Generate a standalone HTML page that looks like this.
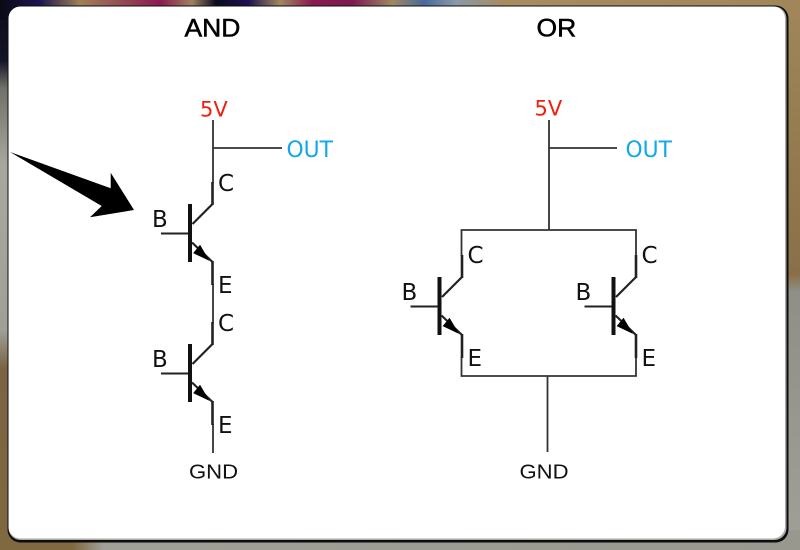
<!DOCTYPE html>
<html><head><meta charset="utf-8"><style>
html,body{margin:0;padding:0;width:800px;height:550px;overflow:hidden;background:#999}
svg{display:block}
text{font-family:"DejaVu Sans",sans-serif;font-size:23px;fill:#111}
.t{font-family:"Liberation Sans",sans-serif;font-size:25px;fill:#000;stroke:#000;stroke-width:.5}
.r{fill:#f02010;font-size:21px}.b{fill:#10a8e8;font-size:21.8px}
.g{font-family:"Liberation Sans",sans-serif;font-size:20px}
</style></head><body>
<svg width="800" height="550" viewBox="0 0 800 550" xmlns="http://www.w3.org/2000/svg">
<defs>
<linearGradient id="top"><stop offset="0" stop-color="#0a0a14"/><stop offset=".05" stop-color="#1c1450"/><stop offset=".1" stop-color="#a08058"/><stop offset=".2" stop-color="#8a1a50"/><stop offset=".24" stop-color="#a08060"/><stop offset=".27" stop-color="#0a0a20"/><stop offset=".31" stop-color="#1c1050"/><stop offset=".35" stop-color="#a08860"/><stop offset=".39" stop-color="#8a1a50"/><stop offset=".44" stop-color="#7a1850"/><stop offset=".49" stop-color="#a08860"/><stop offset=".53" stop-color="#4a6a9a"/><stop offset=".57" stop-color="#8a98a8"/><stop offset=".63" stop-color="#a88c60"/><stop offset="1" stop-color="#a08658"/></linearGradient>
<linearGradient id="left" x2="0" y2="1"><stop offset="0" stop-color="#0a0a18"/><stop offset=".11" stop-color="#141428"/><stop offset=".16" stop-color="#707068"/><stop offset=".3" stop-color="#a8a8a0"/><stop offset=".6" stop-color="#a0a098"/><stop offset=".67" stop-color="#7a6444"/><stop offset="1" stop-color="#806840"/></linearGradient>
<linearGradient id="right" x2="0" y2="1"><stop offset="0" stop-color="#a08658"/><stop offset=".5" stop-color="#8a7048"/><stop offset=".53" stop-color="#8f8f88"/><stop offset="1" stop-color="#a0a098"/></linearGradient>
<linearGradient id="bot"><stop offset="0" stop-color="#806840"/><stop offset=".09" stop-color="#806840"/><stop offset=".13" stop-color="#a0a098"/><stop offset="1" stop-color="#98988f"/></linearGradient>
<g id="q" fill="none" stroke="#222">
<path d="M0 29.5H29" stroke-width="2"/>
<path d="M29 0V58" stroke-width="4" stroke="#111"/>
<path d="M31.5 20L51.5 0" stroke-width="2.2"/>
<path d="M51.5 1V-22" stroke-width="2.6"/>
<path d="M31 38.5L51.5 58" stroke-width="2.2"/>
<path d="M51.5 57V81" stroke-width="2.6"/>
<path d="M39 41.5L47.5 56L32.8 49Z" fill="#000" stroke="#000" stroke-width=".8"/>
</g>
</defs>
<rect width="800" height="550" fill="#a0a098"/>
<rect x="0" y="0" width="30" height="550" fill="url(#left)"/>
<rect x="770" y="0" width="30" height="550" fill="url(#right)"/>
<rect x="0" y="530" width="800" height="20" fill="url(#bot)"/>
<rect x="0" y="0" width="800" height="20" fill="url(#top)"/>
<rect x="7.5" y="5.5" width="781" height="537" rx="13" fill="#0c0c0c"/>
<rect x="8.5" y="6.5" width="778" height="533.5" rx="12" fill="#aaa"/>
<rect x="8.5" y="6.5" width="776.5" height="532" rx="12" fill="#fff"/>

<path d="M10 152L110.7 188.3L110.7 172.7L134 210L90 217.3L101.7 206Z" fill="#000"/>

<text class="t" transform="translate(184.5,36.7) scale(1.06,1)">AND</text>
<text class="t" transform="translate(536.5,36.7) scale(1.06,1)">OR</text>

<g fill="none" stroke="#333" stroke-width="1.8">
<path d="M213 120V183M213 148H282"/>
<path d="M213 284V323"/>
<path d="M213 424V453"/>
<path d="M549 120V230M549 148H617"/>
<path d="M461.5 256V230H636V256"/>
<path d="M461.5 357V376H636V357"/>
<path d="M547.5 376V452"/>
</g>

<use href="#q" x="161" y="204"/>
<use href="#q" x="161" y="344"/>
<use href="#q" x="410.5" y="277"/>
<use href="#q" x="584.5" y="277"/>

<text class="r" x="200" y="116.5">5V</text>
<text class="r" x="534.5" y="115.5">5V</text>
<text class="b" x="286.5" y="157">OUT</text>
<text class="b" x="625.5" y="157">OUT</text>

<text x="218" y="191">C</text>
<text x="152" y="227">B</text>
<text x="218" y="293">E</text>
<text x="218" y="331">C</text>
<text x="152" y="367">B</text>
<text x="218" y="433">E</text>
<text x="467.5" y="263">C</text>
<text x="401.5" y="300">B</text>
<text x="467.5" y="366">E</text>
<text x="641.5" y="263">C</text>
<text x="575.5" y="300">B</text>
<text x="641.5" y="366">E</text>
<text class="g" transform="translate(189,478.5) scale(1.105,1)">GND</text>
<text class="g" transform="translate(519.5,478.5) scale(1.105,1)">GND</text>
</svg>
</body></html>
